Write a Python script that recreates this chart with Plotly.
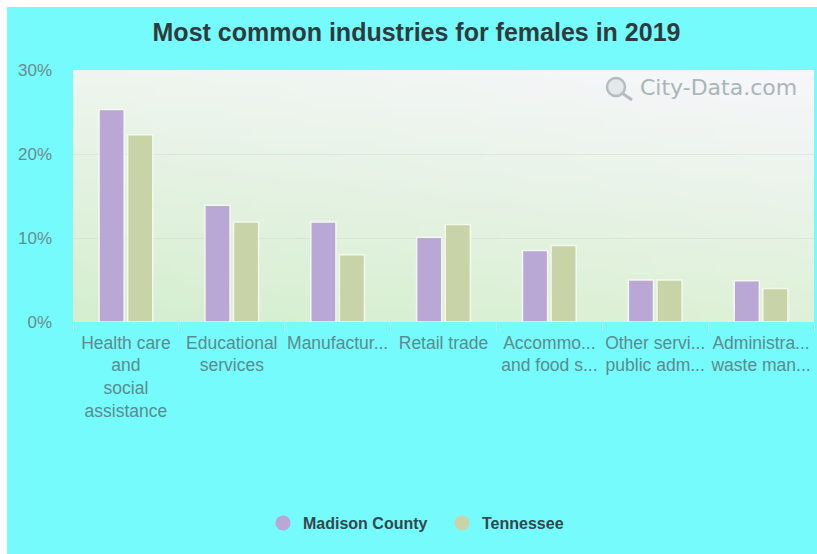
import base64
import struct
import zlib

import plotly.graph_objects as go

# Industry shares of employed females, 2019 (percent)
categories = [
    "Health care<br>and<br>social<br>assistance",
    "Educational<br>services",
    "Manufactur...",
    "Retail trade",
    "Accommo...<br>and food s...",
    "Other servi...<br>public adm...",
    "Administra...<br>waste man...",
]
madison_county = [25.3, 13.9, 11.9, 10.1, 8.5, 5.0, 4.9]
tennessee = [22.3, 11.9, 8.0, 11.6, 9.1, 5.0, 4.0]
y_ticks = [0, 10, 20, 30]
y_tick_labels = ["0%", "10%", "20%", "30%"]

PURPLE = "#b9a7d6"
GREEN = "#c8d4a7"
CYAN = "#76fbfd"


def gradient_png(w, h, tl, tr, bl, br):
    """Small bilinear-gradient PNG as a data URI (stretched behind the plot)."""
    rows = []
    for j in range(h):
        v = j / (h - 1)
        row = bytearray([0])
        for i in range(w):
            u = i / (w - 1)
            for c in range(3):
                top = tl[c] * (1 - u) + tr[c] * u
                bot = bl[c] * (1 - u) + br[c] * u
                row.append(int(round(top * (1 - v) + bot * v)))
        rows.append(bytes(row))
    raw = b"".join(rows)

    def chunk(tag, data):
        body = tag + data
        return struct.pack(">I", len(data)) + body + struct.pack(">I", zlib.crc32(body) & 0xFFFFFFFF)

    png = b"\x89PNG\r\n\x1a\n"
    png += chunk(b"IHDR", struct.pack(">IIBBBBB", w, h, 8, 2, 0, 0, 0))
    png += chunk(b"IDAT", zlib.compress(raw, 9))
    png += chunk(b"IEND", b"")
    return "data:image/png;base64," + base64.b64encode(png).decode()


bg = gradient_png(48, 24, (238, 245, 238), (247, 246, 251), (213, 238, 207), (222, 241, 216))

fig = go.Figure()
fig.add_trace(go.Bar(
    x=categories, y=madison_county, name="Madison County",
    marker=dict(color=PURPLE, line=dict(color="#f4f8ef", width=1.5)),
    showlegend=False,
))
fig.add_trace(go.Bar(
    x=categories, y=tennessee, name="Tennessee",
    marker=dict(color=GREEN, line=dict(color="#f4f8ef", width=1.5)),
    showlegend=False,
))
# Round legend markers
for name, color in [("Madison County", PURPLE), ("Tennessee", GREEN)]:
    fig.add_trace(go.Scatter(
        x=[None], y=[None], mode="markers", name=name,
        marker=dict(color=color, size=15, symbol="circle"),
    ))

sans = "Liberation Sans, Arial, sans-serif"


def px_x(p):
    return (p - 73) / 741


def px_y(p):
    return (322 - p) / 252


fig.update_layout(
    width=817, height=554,
    margin=dict(l=73, r=3, t=70, b=232),
    paper_bgcolor=CYAN,
    plot_bgcolor="rgba(0,0,0,0)",
    barmode="group", bargap=0.46, bargroupgap=0.12,
    title=dict(
        text="<b>Most common industries for females in 2019</b>",
        x=416.5 / 817, xref="container", xanchor="center",
        y=1 - 32 / 554, yref="container", yanchor="middle",
        font=dict(family=sans, size=25, color="#2f3a3c"),
    ),
    legend=dict(
        orientation="h", x=px_x(263), xanchor="left", y=px_y(523), yanchor="middle",
        font=dict(family=sans, size=16, color="#33474c", weight="bold"),
        bgcolor="rgba(0,0,0,0)", itemwidth=30, entrywidth=134,
    ),
    xaxis=dict(
        type="category", showgrid=False, zeroline=False,
        ticks="outside", tickson="boundaries", ticklen=8,
        tickcolor="rgba(255,255,255,0.45)", tickwidth=1,
        showline=False, ticklabelstandoff=8,
        tickfont=dict(family=sans, size=17.5, color="#5b8b8c"),
        tickangle=0,
    ),
    yaxis=dict(
        range=[0, 30], tickvals=y_ticks, ticktext=y_tick_labels,
        showgrid=True, gridcolor="rgba(205,215,205,0.45)", gridwidth=1,
        zeroline=False, showline=False, ticks="",
        ticklabelstandoff=20,
        tickfont=dict(family=sans, size=17, color="#6a8a8c"),
    ),
    images=[dict(
        source=bg, xref="paper", yref="paper", x=0, y=1, sizex=1, sizey=1,
        xanchor="left", yanchor="top", sizing="stretch", layer="below",
    )],
    shapes=[
        # thin white rim along the top and left edges of the card
        dict(type="rect", xref="paper", yref="paper",
             x0=px_x(-5), x1=px_x(830), y0=px_y(7), y1=px_y(-5),
             fillcolor="white", line=dict(width=0), layer="above"),
        dict(type="rect", xref="paper", yref="paper",
             x0=px_x(-5), x1=px_x(7), y0=px_y(560), y1=px_y(-5),
             fillcolor="white", line=dict(width=0), layer="above"),
        # watermark lens and handle
        dict(type="circle", xref="paper", yref="paper",
             x0=px_x(607), x1=px_x(625), y0=px_y(96), y1=px_y(78),
             line=dict(color="#b3bdc0", width=2.5), fillcolor="rgba(200,208,210,0.35)", layer="above"),
        dict(type="line", xref="paper", yref="paper",
             x0=px_x(622), x1=px_x(632), y0=px_y(93), y1=px_y(100),
             line=dict(color="#b3bdc0", width=3), layer="above"),
    ],
    annotations=[dict(
        text="City-Data.com", xref="paper", yref="paper",
        x=px_x(799), y=px_y(87), xanchor="right", yanchor="middle",
        showarrow=False,
        font=dict(family="DejaVu Sans, Verdana, sans-serif", size=22, color="#aab5b8"),
    )],
)

fig.write_html("out.html")
